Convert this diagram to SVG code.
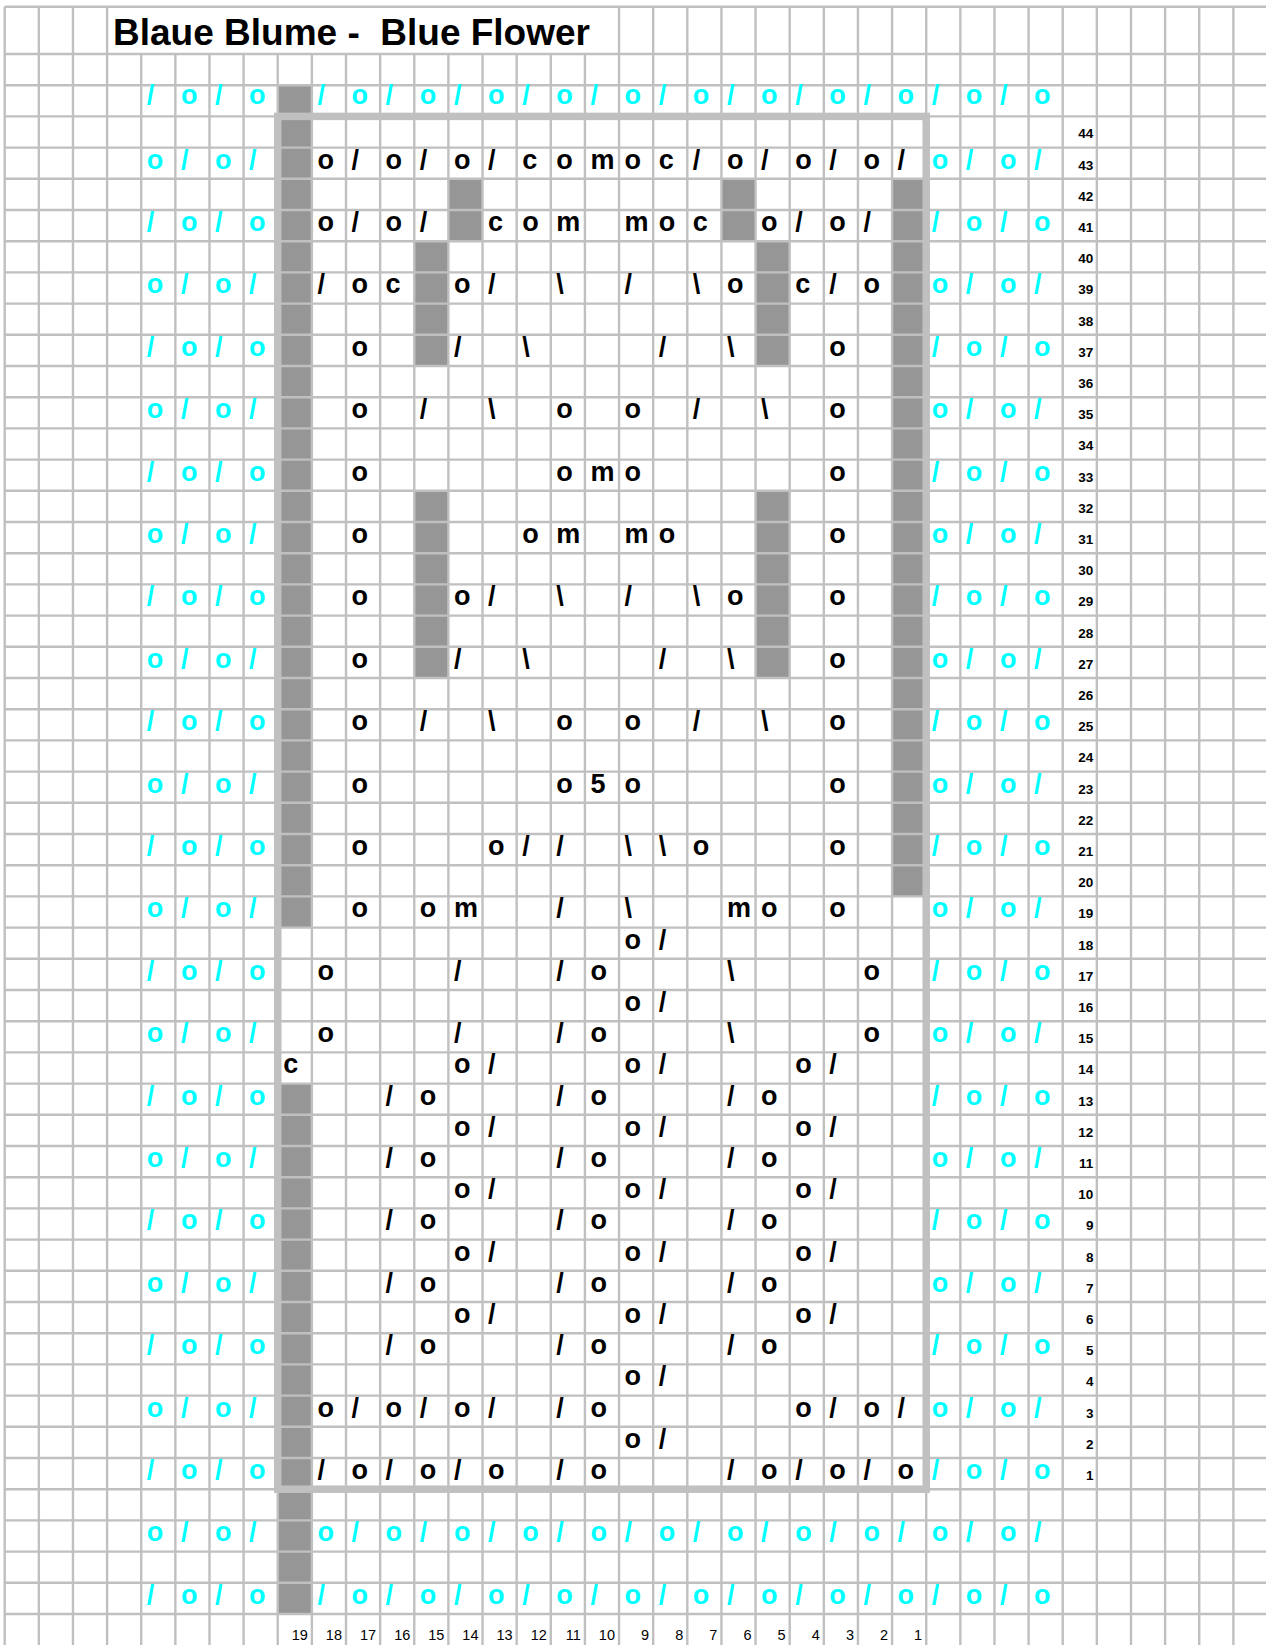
<svg xmlns="http://www.w3.org/2000/svg" width="1266" height="1645" viewBox="0 0 1266 1645">
<style>
.c{fill:#00ffff;font-family:"Liberation Sans",Arial,sans-serif;font-weight:bold;font-size:27px}
.k{fill:#000;font-family:"Liberation Sans",Arial,sans-serif;font-weight:bold;font-size:27px}
.n{fill:#000;font-family:"Liberation Sans",Arial,sans-serif;font-weight:bold;font-size:13.5px;text-anchor:end}
.m{fill:#000;font-family:"Liberation Sans",Arial,sans-serif;font-size:14.5px;text-anchor:end}
.g{fill:#969696}
</style>
<rect x="0" y="0" width="1266" height="1645" fill="#fff"/>
<g id="fills">
<rect class="g" x="277.74" y="85.2" width="34.13" height="842.4"/>
<rect class="g" x="277.74" y="1083.6" width="34.13" height="530.4"/>
<rect class="g" x="892.08" y="178.8" width="34.13" height="717.6"/>
<rect class="g" x="448.39" y="178.8" width="34.13" height="62.4"/>
<rect class="g" x="721.43" y="178.8" width="34.13" height="62.4"/>
<rect class="g" x="414.26" y="241.2" width="34.13" height="124.8"/>
<rect class="g" x="414.26" y="490.8" width="34.13" height="187.2"/>
<rect class="g" x="755.56" y="241.2" width="34.13" height="124.8"/>
<rect class="g" x="755.56" y="490.8" width="34.13" height="187.2"/>
</g>
<g id="grid" stroke="#c0c0c0" stroke-width="2.4" fill="none">
<path d="M4.7 6.7V1645M38.83 6.7V1645M72.96 6.7V1645M107.09 6.7V1645M141.22 54V1645M175.35 54V1645M209.48 54V1645M243.61 54V1645M277.74 54V1645M311.87 54V1645M346 54V1645M380.13 54V1645M414.26 54V1645M448.39 54V1645M482.52 54V1645M516.65 54V1645M550.78 54V1645M584.91 54V1645M619.04 6.7V1645M653.17 6.7V1645M687.3 6.7V1645M721.43 6.7V1645M755.56 6.7V1645M789.69 6.7V1645M823.82 6.7V1645M857.95 6.7V1645M892.08 6.7V1645M926.21 6.7V1645M960.34 6.7V1645M994.47 6.7V1645M1028.6 6.7V1645M1062.73 6.7V1645M1096.86 6.7V1645M1130.99 6.7V1645M1165.12 6.7V1645M1199.25 6.7V1645M1233.38 6.7V1645"/>
<path d="M4.7 6.7H1266M4.7 54H1266M4.7 85.2H1266M4.7 116.4H1266M4.7 147.6H1266M4.7 178.8H1266M4.7 210H1266M4.7 241.2H1266M4.7 272.4H1266M4.7 303.6H1266M4.7 334.8H1266M4.7 366H1266M4.7 397.2H1266M4.7 428.4H1266M4.7 459.6H1266M4.7 490.8H1266M4.7 522H1266M4.7 553.2H1266M4.7 584.4H1266M4.7 615.6H1266M4.7 646.8H1266M4.7 678H1266M4.7 709.2H1266M4.7 740.4H1266M4.7 771.6H1266M4.7 802.8H1266M4.7 834H1266M4.7 865.2H1266M4.7 896.4H1266M4.7 927.6H1266M4.7 958.8H1266M4.7 990H1266M4.7 1021.2H1266M4.7 1052.4H1266M4.7 1083.6H1266M4.7 1114.8H1266M4.7 1146H1266M4.7 1177.2H1266M4.7 1208.4H1266M4.7 1239.6H1266M4.7 1270.8H1266M4.7 1302H1266M4.7 1333.2H1266M4.7 1364.4H1266M4.7 1395.6H1266M4.7 1426.8H1266M4.7 1458H1266M4.7 1489.2H1266M4.7 1520.4H1266M4.7 1551.6H1266M4.7 1582.8H1266M4.7 1614H1266"/>
</g>
<rect id="border" x="277.74" y="116.4" width="648.47" height="1372.8" fill="none" stroke="#c0c0c0" stroke-width="7.5"/>
<text id="title" x="113" y="45" style="font-family:'Liberation Sans',Arial,sans-serif;font-weight:bold;font-size:37px" xml:space="preserve">Blaue Blume -  Blue Flower</text>
<g id="symbols">
<g transform="translate(0,103.5)"><text class="c" x="146.7">/</text><text class="c" x="180.9">o</text><text class="c" x="215">/</text><text class="c" x="249.1">o</text><text class="c" x="317.4">/</text><text class="c" x="351.5">o</text><text class="c" x="385.6">/</text><text class="c" x="419.8">o</text><text class="c" x="453.9">/</text><text class="c" x="488">o</text><text class="c" x="522.2">/</text><text class="c" x="556.3">o</text><text class="c" x="590.4">/</text><text class="c" x="624.5">o</text><text class="c" x="658.7">/</text><text class="c" x="692.8">o</text><text class="c" x="726.9">/</text><text class="c" x="761.1">o</text><text class="c" x="795.2">/</text><text class="c" x="829.3">o</text><text class="c" x="863.5">/</text><text class="c" x="897.6">o</text><text class="c" x="931.7">/</text><text class="c" x="965.8">o</text><text class="c" x="1000">/</text><text class="c" x="1034.1">o</text></g>
<g transform="translate(0,168.6)"><text class="c" x="146.7">o</text><text class="c" x="180.9">/</text><text class="c" x="215">o</text><text class="c" x="249.1">/</text><text class="k" x="317.4">o</text><text class="k" x="351.5">/</text><text class="k" x="385.6">o</text><text class="k" x="419.8">/</text><text class="k" x="453.9">o</text><text class="k" x="488">/</text><text class="k" x="522.2">c</text><text class="k" x="556.3">o</text><text class="k" x="590.4">m</text><text class="k" x="624.5">o</text><text class="k" x="658.7">c</text><text class="k" x="692.8">/</text><text class="k" x="726.9">o</text><text class="k" x="761.1">/</text><text class="k" x="795.2">o</text><text class="k" x="829.3">/</text><text class="k" x="863.5">o</text><text class="k" x="897.6">/</text><text class="c" x="931.7">o</text><text class="c" x="965.8">/</text><text class="c" x="1000">o</text><text class="c" x="1034.1">/</text></g>
<g transform="translate(0,231)"><text class="c" x="146.7">/</text><text class="c" x="180.9">o</text><text class="c" x="215">/</text><text class="c" x="249.1">o</text><text class="k" x="317.4">o</text><text class="k" x="351.5">/</text><text class="k" x="385.6">o</text><text class="k" x="419.8">/</text><text class="k" x="488">c</text><text class="k" x="522.2">o</text><text class="k" x="556.3">m</text><text class="k" x="624.5">m</text><text class="k" x="658.7">o</text><text class="k" x="692.8">c</text><text class="k" x="761.1">o</text><text class="k" x="795.2">/</text><text class="k" x="829.3">o</text><text class="k" x="863.5">/</text><text class="c" x="931.7">/</text><text class="c" x="965.8">o</text><text class="c" x="1000">/</text><text class="c" x="1034.1">o</text></g>
<g transform="translate(0,293.4)"><text class="c" x="146.7">o</text><text class="c" x="180.9">/</text><text class="c" x="215">o</text><text class="c" x="249.1">/</text><text class="k" x="317.4">/</text><text class="k" x="351.5">o</text><text class="k" x="385.6">c</text><text class="k" x="453.9">o</text><text class="k" x="488">/</text><text class="k" x="556.3">\</text><text class="k" x="624.5">/</text><text class="k" x="692.8">\</text><text class="k" x="726.9">o</text><text class="k" x="795.2">c</text><text class="k" x="829.3">/</text><text class="k" x="863.5">o</text><text class="c" x="931.7">o</text><text class="c" x="965.8">/</text><text class="c" x="1000">o</text><text class="c" x="1034.1">/</text></g>
<g transform="translate(0,355.8)"><text class="c" x="146.7">/</text><text class="c" x="180.9">o</text><text class="c" x="215">/</text><text class="c" x="249.1">o</text><text class="k" x="351.5">o</text><text class="k" x="453.9">/</text><text class="k" x="522.2">\</text><text class="k" x="658.7">/</text><text class="k" x="726.9">\</text><text class="k" x="829.3">o</text><text class="c" x="931.7">/</text><text class="c" x="965.8">o</text><text class="c" x="1000">/</text><text class="c" x="1034.1">o</text></g>
<g transform="translate(0,418.2)"><text class="c" x="146.7">o</text><text class="c" x="180.9">/</text><text class="c" x="215">o</text><text class="c" x="249.1">/</text><text class="k" x="351.5">o</text><text class="k" x="419.8">/</text><text class="k" x="488">\</text><text class="k" x="556.3">o</text><text class="k" x="624.5">o</text><text class="k" x="692.8">/</text><text class="k" x="761.1">\</text><text class="k" x="829.3">o</text><text class="c" x="931.7">o</text><text class="c" x="965.8">/</text><text class="c" x="1000">o</text><text class="c" x="1034.1">/</text></g>
<g transform="translate(0,480.6)"><text class="c" x="146.7">/</text><text class="c" x="180.9">o</text><text class="c" x="215">/</text><text class="c" x="249.1">o</text><text class="k" x="351.5">o</text><text class="k" x="556.3">o</text><text class="k" x="590.4">m</text><text class="k" x="624.5">o</text><text class="k" x="829.3">o</text><text class="c" x="931.7">/</text><text class="c" x="965.8">o</text><text class="c" x="1000">/</text><text class="c" x="1034.1">o</text></g>
<g transform="translate(0,543)"><text class="c" x="146.7">o</text><text class="c" x="180.9">/</text><text class="c" x="215">o</text><text class="c" x="249.1">/</text><text class="k" x="351.5">o</text><text class="k" x="522.2">o</text><text class="k" x="556.3">m</text><text class="k" x="624.5">m</text><text class="k" x="658.7">o</text><text class="k" x="829.3">o</text><text class="c" x="931.7">o</text><text class="c" x="965.8">/</text><text class="c" x="1000">o</text><text class="c" x="1034.1">/</text></g>
<g transform="translate(0,605.4)"><text class="c" x="146.7">/</text><text class="c" x="180.9">o</text><text class="c" x="215">/</text><text class="c" x="249.1">o</text><text class="k" x="351.5">o</text><text class="k" x="453.9">o</text><text class="k" x="488">/</text><text class="k" x="556.3">\</text><text class="k" x="624.5">/</text><text class="k" x="692.8">\</text><text class="k" x="726.9">o</text><text class="k" x="829.3">o</text><text class="c" x="931.7">/</text><text class="c" x="965.8">o</text><text class="c" x="1000">/</text><text class="c" x="1034.1">o</text></g>
<g transform="translate(0,667.8)"><text class="c" x="146.7">o</text><text class="c" x="180.9">/</text><text class="c" x="215">o</text><text class="c" x="249.1">/</text><text class="k" x="351.5">o</text><text class="k" x="453.9">/</text><text class="k" x="522.2">\</text><text class="k" x="658.7">/</text><text class="k" x="726.9">\</text><text class="k" x="829.3">o</text><text class="c" x="931.7">o</text><text class="c" x="965.8">/</text><text class="c" x="1000">o</text><text class="c" x="1034.1">/</text></g>
<g transform="translate(0,730.2)"><text class="c" x="146.7">/</text><text class="c" x="180.9">o</text><text class="c" x="215">/</text><text class="c" x="249.1">o</text><text class="k" x="351.5">o</text><text class="k" x="419.8">/</text><text class="k" x="488">\</text><text class="k" x="556.3">o</text><text class="k" x="624.5">o</text><text class="k" x="692.8">/</text><text class="k" x="761.1">\</text><text class="k" x="829.3">o</text><text class="c" x="931.7">/</text><text class="c" x="965.8">o</text><text class="c" x="1000">/</text><text class="c" x="1034.1">o</text></g>
<g transform="translate(0,792.6)"><text class="c" x="146.7">o</text><text class="c" x="180.9">/</text><text class="c" x="215">o</text><text class="c" x="249.1">/</text><text class="k" x="351.5">o</text><text class="k" x="556.3">o</text><text class="k" x="590.4">5</text><text class="k" x="624.5">o</text><text class="k" x="829.3">o</text><text class="c" x="931.7">o</text><text class="c" x="965.8">/</text><text class="c" x="1000">o</text><text class="c" x="1034.1">/</text></g>
<g transform="translate(0,855)"><text class="c" x="146.7">/</text><text class="c" x="180.9">o</text><text class="c" x="215">/</text><text class="c" x="249.1">o</text><text class="k" x="351.5">o</text><text class="k" x="488">o</text><text class="k" x="522.2">/</text><text class="k" x="556.3">/</text><text class="k" x="624.5">\</text><text class="k" x="658.7">\</text><text class="k" x="692.8">o</text><text class="k" x="829.3">o</text><text class="c" x="931.7">/</text><text class="c" x="965.8">o</text><text class="c" x="1000">/</text><text class="c" x="1034.1">o</text></g>
<g transform="translate(0,917.4)"><text class="c" x="146.7">o</text><text class="c" x="180.9">/</text><text class="c" x="215">o</text><text class="c" x="249.1">/</text><text class="k" x="351.5">o</text><text class="k" x="419.8">o</text><text class="k" x="453.9">m</text><text class="k" x="556.3">/</text><text class="k" x="624.5">\</text><text class="k" x="726.9">m</text><text class="k" x="761.1">o</text><text class="k" x="829.3">o</text><text class="c" x="931.7">o</text><text class="c" x="965.8">/</text><text class="c" x="1000">o</text><text class="c" x="1034.1">/</text></g>
<g transform="translate(0,948.6)"><text class="k" x="624.5">o</text><text class="k" x="658.7">/</text></g>
<g transform="translate(0,979.8)"><text class="c" x="146.7">/</text><text class="c" x="180.9">o</text><text class="c" x="215">/</text><text class="c" x="249.1">o</text><text class="k" x="317.4">o</text><text class="k" x="453.9">/</text><text class="k" x="556.3">/</text><text class="k" x="590.4">o</text><text class="k" x="726.9">\</text><text class="k" x="863.5">o</text><text class="c" x="931.7">/</text><text class="c" x="965.8">o</text><text class="c" x="1000">/</text><text class="c" x="1034.1">o</text></g>
<g transform="translate(0,1011)"><text class="k" x="624.5">o</text><text class="k" x="658.7">/</text></g>
<g transform="translate(0,1042.2)"><text class="c" x="146.7">o</text><text class="c" x="180.9">/</text><text class="c" x="215">o</text><text class="c" x="249.1">/</text><text class="k" x="317.4">o</text><text class="k" x="453.9">/</text><text class="k" x="556.3">/</text><text class="k" x="590.4">o</text><text class="k" x="726.9">\</text><text class="k" x="863.5">o</text><text class="c" x="931.7">o</text><text class="c" x="965.8">/</text><text class="c" x="1000">o</text><text class="c" x="1034.1">/</text></g>
<g transform="translate(0,1073.4)"><text class="k" x="283.2">c</text><text class="k" x="453.9">o</text><text class="k" x="488">/</text><text class="k" x="624.5">o</text><text class="k" x="658.7">/</text><text class="k" x="795.2">o</text><text class="k" x="829.3">/</text></g>
<g transform="translate(0,1104.6)"><text class="c" x="146.7">/</text><text class="c" x="180.9">o</text><text class="c" x="215">/</text><text class="c" x="249.1">o</text><text class="k" x="385.6">/</text><text class="k" x="419.8">o</text><text class="k" x="556.3">/</text><text class="k" x="590.4">o</text><text class="k" x="726.9">/</text><text class="k" x="761.1">o</text><text class="c" x="931.7">/</text><text class="c" x="965.8">o</text><text class="c" x="1000">/</text><text class="c" x="1034.1">o</text></g>
<g transform="translate(0,1135.8)"><text class="k" x="453.9">o</text><text class="k" x="488">/</text><text class="k" x="624.5">o</text><text class="k" x="658.7">/</text><text class="k" x="795.2">o</text><text class="k" x="829.3">/</text></g>
<g transform="translate(0,1167)"><text class="c" x="146.7">o</text><text class="c" x="180.9">/</text><text class="c" x="215">o</text><text class="c" x="249.1">/</text><text class="k" x="385.6">/</text><text class="k" x="419.8">o</text><text class="k" x="556.3">/</text><text class="k" x="590.4">o</text><text class="k" x="726.9">/</text><text class="k" x="761.1">o</text><text class="c" x="931.7">o</text><text class="c" x="965.8">/</text><text class="c" x="1000">o</text><text class="c" x="1034.1">/</text></g>
<g transform="translate(0,1198.2)"><text class="k" x="453.9">o</text><text class="k" x="488">/</text><text class="k" x="624.5">o</text><text class="k" x="658.7">/</text><text class="k" x="795.2">o</text><text class="k" x="829.3">/</text></g>
<g transform="translate(0,1229.4)"><text class="c" x="146.7">/</text><text class="c" x="180.9">o</text><text class="c" x="215">/</text><text class="c" x="249.1">o</text><text class="k" x="385.6">/</text><text class="k" x="419.8">o</text><text class="k" x="556.3">/</text><text class="k" x="590.4">o</text><text class="k" x="726.9">/</text><text class="k" x="761.1">o</text><text class="c" x="931.7">/</text><text class="c" x="965.8">o</text><text class="c" x="1000">/</text><text class="c" x="1034.1">o</text></g>
<g transform="translate(0,1260.6)"><text class="k" x="453.9">o</text><text class="k" x="488">/</text><text class="k" x="624.5">o</text><text class="k" x="658.7">/</text><text class="k" x="795.2">o</text><text class="k" x="829.3">/</text></g>
<g transform="translate(0,1291.8)"><text class="c" x="146.7">o</text><text class="c" x="180.9">/</text><text class="c" x="215">o</text><text class="c" x="249.1">/</text><text class="k" x="385.6">/</text><text class="k" x="419.8">o</text><text class="k" x="556.3">/</text><text class="k" x="590.4">o</text><text class="k" x="726.9">/</text><text class="k" x="761.1">o</text><text class="c" x="931.7">o</text><text class="c" x="965.8">/</text><text class="c" x="1000">o</text><text class="c" x="1034.1">/</text></g>
<g transform="translate(0,1323)"><text class="k" x="453.9">o</text><text class="k" x="488">/</text><text class="k" x="624.5">o</text><text class="k" x="658.7">/</text><text class="k" x="795.2">o</text><text class="k" x="829.3">/</text></g>
<g transform="translate(0,1354.2)"><text class="c" x="146.7">/</text><text class="c" x="180.9">o</text><text class="c" x="215">/</text><text class="c" x="249.1">o</text><text class="k" x="385.6">/</text><text class="k" x="419.8">o</text><text class="k" x="556.3">/</text><text class="k" x="590.4">o</text><text class="k" x="726.9">/</text><text class="k" x="761.1">o</text><text class="c" x="931.7">/</text><text class="c" x="965.8">o</text><text class="c" x="1000">/</text><text class="c" x="1034.1">o</text></g>
<g transform="translate(0,1385.4)"><text class="k" x="624.5">o</text><text class="k" x="658.7">/</text></g>
<g transform="translate(0,1416.6)"><text class="c" x="146.7">o</text><text class="c" x="180.9">/</text><text class="c" x="215">o</text><text class="c" x="249.1">/</text><text class="k" x="317.4">o</text><text class="k" x="351.5">/</text><text class="k" x="385.6">o</text><text class="k" x="419.8">/</text><text class="k" x="453.9">o</text><text class="k" x="488">/</text><text class="k" x="556.3">/</text><text class="k" x="590.4">o</text><text class="k" x="795.2">o</text><text class="k" x="829.3">/</text><text class="k" x="863.5">o</text><text class="k" x="897.6">/</text><text class="c" x="931.7">o</text><text class="c" x="965.8">/</text><text class="c" x="1000">o</text><text class="c" x="1034.1">/</text></g>
<g transform="translate(0,1447.8)"><text class="k" x="624.5">o</text><text class="k" x="658.7">/</text></g>
<g transform="translate(0,1479)"><text class="c" x="146.7">/</text><text class="c" x="180.9">o</text><text class="c" x="215">/</text><text class="c" x="249.1">o</text><text class="k" x="317.4">/</text><text class="k" x="351.5">o</text><text class="k" x="385.6">/</text><text class="k" x="419.8">o</text><text class="k" x="453.9">/</text><text class="k" x="488">o</text><text class="k" x="556.3">/</text><text class="k" x="590.4">o</text><text class="k" x="726.9">/</text><text class="k" x="761.1">o</text><text class="k" x="795.2">/</text><text class="k" x="829.3">o</text><text class="k" x="863.5">/</text><text class="k" x="897.6">o</text><text class="c" x="931.7">/</text><text class="c" x="965.8">o</text><text class="c" x="1000">/</text><text class="c" x="1034.1">o</text></g>
<g transform="translate(0,1541.4)"><text class="c" x="146.7">o</text><text class="c" x="180.9">/</text><text class="c" x="215">o</text><text class="c" x="249.1">/</text><text class="c" x="317.4">o</text><text class="c" x="351.5">/</text><text class="c" x="385.6">o</text><text class="c" x="419.8">/</text><text class="c" x="453.9">o</text><text class="c" x="488">/</text><text class="c" x="522.2">o</text><text class="c" x="556.3">/</text><text class="c" x="590.4">o</text><text class="c" x="624.5">/</text><text class="c" x="658.7">o</text><text class="c" x="692.8">/</text><text class="c" x="726.9">o</text><text class="c" x="761.1">/</text><text class="c" x="795.2">o</text><text class="c" x="829.3">/</text><text class="c" x="863.5">o</text><text class="c" x="897.6">/</text><text class="c" x="931.7">o</text><text class="c" x="965.8">/</text><text class="c" x="1000">o</text><text class="c" x="1034.1">/</text></g>
<g transform="translate(0,1603.8)"><text class="c" x="146.7">/</text><text class="c" x="180.9">o</text><text class="c" x="215">/</text><text class="c" x="249.1">o</text><text class="c" x="317.4">/</text><text class="c" x="351.5">o</text><text class="c" x="385.6">/</text><text class="c" x="419.8">o</text><text class="c" x="453.9">/</text><text class="c" x="488">o</text><text class="c" x="522.2">/</text><text class="c" x="556.3">o</text><text class="c" x="590.4">/</text><text class="c" x="624.5">o</text><text class="c" x="658.7">/</text><text class="c" x="692.8">o</text><text class="c" x="726.9">/</text><text class="c" x="761.1">o</text><text class="c" x="795.2">/</text><text class="c" x="829.3">o</text><text class="c" x="863.5">/</text><text class="c" x="897.6">o</text><text class="c" x="931.7">/</text><text class="c" x="965.8">o</text><text class="c" x="1000">/</text><text class="c" x="1034.1">o</text></g>
</g>
<g id="row-numbers">
<text class="n" x="1093.4" y="138.4">44</text><text class="n" x="1093.4" y="169.6">43</text><text class="n" x="1093.4" y="200.8">42</text><text class="n" x="1093.4" y="232">41</text><text class="n" x="1093.4" y="263.2">40</text><text class="n" x="1093.4" y="294.4">39</text><text class="n" x="1093.4" y="325.6">38</text><text class="n" x="1093.4" y="356.8">37</text><text class="n" x="1093.4" y="388">36</text><text class="n" x="1093.4" y="419.2">35</text><text class="n" x="1093.4" y="450.4">34</text><text class="n" x="1093.4" y="481.6">33</text><text class="n" x="1093.4" y="512.8">32</text><text class="n" x="1093.4" y="544">31</text><text class="n" x="1093.4" y="575.2">30</text><text class="n" x="1093.4" y="606.4">29</text><text class="n" x="1093.4" y="637.6">28</text><text class="n" x="1093.4" y="668.8">27</text><text class="n" x="1093.4" y="700">26</text><text class="n" x="1093.4" y="731.2">25</text><text class="n" x="1093.4" y="762.4">24</text><text class="n" x="1093.4" y="793.6">23</text><text class="n" x="1093.4" y="824.8">22</text><text class="n" x="1093.4" y="856">21</text><text class="n" x="1093.4" y="887.2">20</text><text class="n" x="1093.4" y="918.4">19</text><text class="n" x="1093.4" y="949.6">18</text><text class="n" x="1093.4" y="980.8">17</text><text class="n" x="1093.4" y="1012">16</text><text class="n" x="1093.4" y="1043.2">15</text><text class="n" x="1093.4" y="1074.4">14</text><text class="n" x="1093.4" y="1105.6">13</text><text class="n" x="1093.4" y="1136.8">12</text><text class="n" x="1093.4" y="1168">11</text><text class="n" x="1093.4" y="1199.2">10</text><text class="n" x="1093.4" y="1230.4">9</text><text class="n" x="1093.4" y="1261.6">8</text><text class="n" x="1093.4" y="1292.8">7</text><text class="n" x="1093.4" y="1324">6</text><text class="n" x="1093.4" y="1355.2">5</text><text class="n" x="1093.4" y="1386.4">4</text><text class="n" x="1093.4" y="1417.6">3</text><text class="n" x="1093.4" y="1448.8">2</text><text class="n" x="1093.4" y="1480">1</text>
</g>
<g id="column-numbers">
<text class="m" x="307.9" y="1639.5">19</text><text class="m" x="342" y="1639.5">18</text><text class="m" x="376.1" y="1639.5">17</text><text class="m" x="410.3" y="1639.5">16</text><text class="m" x="444.4" y="1639.5">15</text><text class="m" x="478.5" y="1639.5">14</text><text class="m" x="512.7" y="1639.5">13</text><text class="m" x="546.8" y="1639.5">12</text><text class="m" x="580.9" y="1639.5">11</text><text class="m" x="615" y="1639.5">10</text><text class="m" x="649.2" y="1639.5">9</text><text class="m" x="683.3" y="1639.5">8</text><text class="m" x="717.4" y="1639.5">7</text><text class="m" x="751.6" y="1639.5">6</text><text class="m" x="785.7" y="1639.5">5</text><text class="m" x="819.8" y="1639.5">4</text><text class="m" x="854" y="1639.5">3</text><text class="m" x="888.1" y="1639.5">2</text><text class="m" x="922.2" y="1639.5">1</text>
</g>
</svg>
